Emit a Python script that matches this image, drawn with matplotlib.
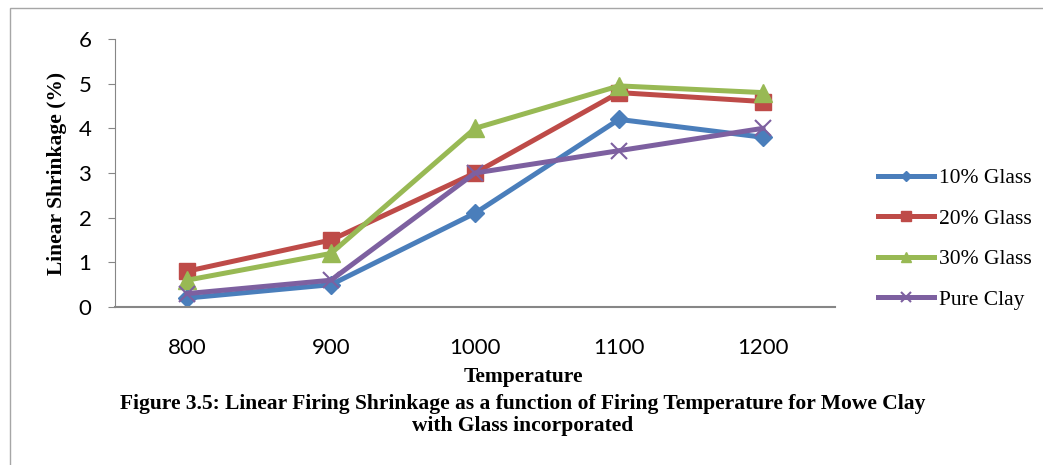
import matplotlib.pyplot as plt
from matplotlib.patches import Rectangle

temps = ['800', '900', '1000', '1100', '1200']
glass10 = [0.2, 0.5, 2.1, 4.2, 3.8]
glass20 = [0.8, 1.5, 3.0, 4.8, 4.6]
glass30 = [0.6, 1.2, 4.0, 4.95, 4.8]
pure_clay = [0.3, 0.6, 3.0, 3.5, 4.0]

W, H = 1043, 465
fig = plt.figure(figsize=(W / 100, H / 100), dpi=100)

# outer frame of the chart area (runs off the right/bottom edge)
fig.patches.append(Rectangle((10 / W, -0.1), 1.2, 1 - 8 / H + 0.1,
                             transform=fig.transFigure, fill=False,
                             edgecolor='#a6a6a6', linewidth=1))

ax = fig.add_axes([115 / W, 1 - 307 / H, 720 / W, 268 / H])
x = range(len(temps))

ax.plot(x, glass10, color='#4A7EBB', lw=3.6, marker='D', ms=9, label='10% Glass')
ax.plot(x, glass20, color='#BE4B48', lw=3.6, marker='s', ms=11, label='20% Glass')
ax.plot(x, glass30, color='#98B954', lw=3.6, marker='^', ms=13, label='30% Glass')
ax.plot(x, pure_clay, color='#7D60A0', lw=3.6, marker='x', ms=11, mew=1.5, label='Pure Clay')

ax.set_xlim(-0.5, 4.5)
ax.set_ylim(0, 6)
ax.set_xticks(list(x))
ax.set_xticklabels(temps)
ax.set_yticks(range(0, 7))

for s in ['top', 'right']:
    ax.spines[s].set_visible(False)
for s in ['left', 'bottom']:
    ax.spines[s].set_color('#868686')
ax.spines['bottom'].set_linewidth(1.5)

ax.tick_params(axis='x', length=0, pad=22, labelsize=16)
ax.tick_params(axis='y', length=5, color='#868686', pad=12, labelsize=16)
for lab in ax.get_xticklabels() + ax.get_yticklabels():
    lab.set_family('Lato')

ax.set_ylabel('Linear Shrinkage (%)', family='Liberation Serif',
              fontweight='bold', fontsize=15.5, labelpad=8)

serif = dict(family='Liberation Serif', fontweight='bold', ha='center', va='center')
fig.text(523 / W, 1 - 377 / H, 'Temperature', fontsize=15.5, **serif)
fig.text(523 / W, 1 - 404 / H,
         'Figure 3.5: Linear Firing Shrinkage as a function of Firing Temperature for Mowe Clay',
         fontsize=15.5, **serif)
fig.text(523 / W, 1 - 426 / H, 'with Glass incorporated', fontsize=15.5, **serif)

leg = ax.legend(loc='center left', bbox_to_anchor=(859 / W, 1 - 239 / H),
                bbox_transform=fig.transFigure, frameon=False,
                prop={'family': 'Liberation Serif', 'size': 15.5},
                handlelength=2.6, handletextpad=0.2, labelspacing=0.95,
                markerscale=0.6)

fig.savefig('out.png', dpi=100)
